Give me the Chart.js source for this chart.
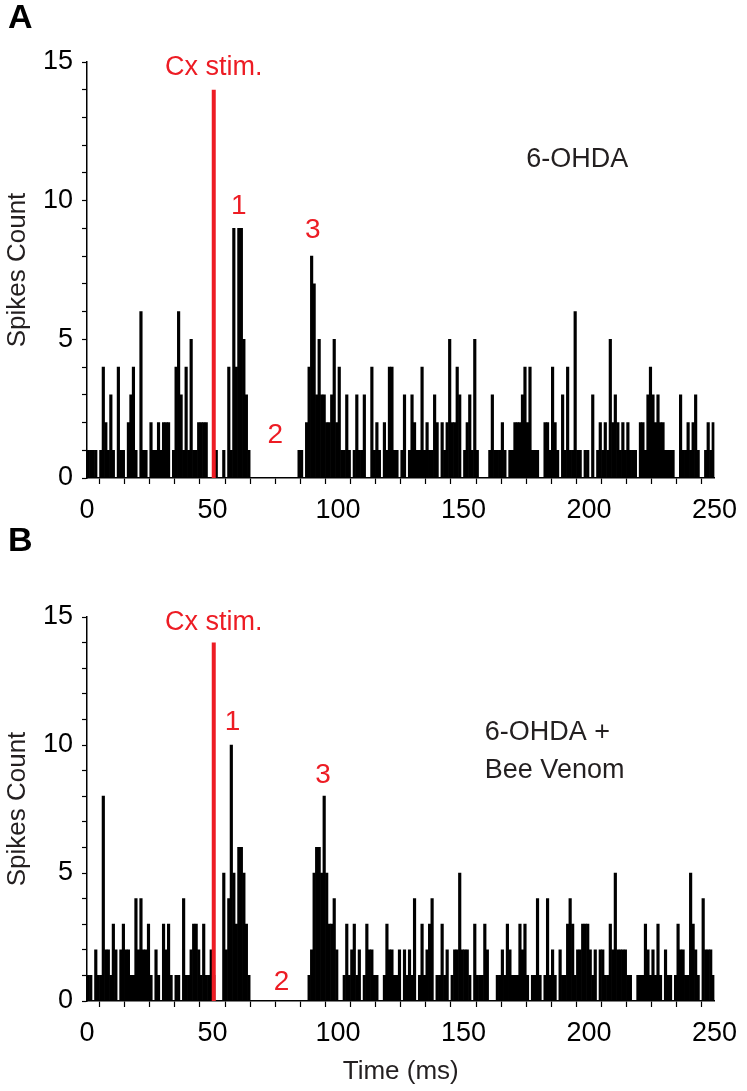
<!DOCTYPE html>
<html>
<head>
<meta charset="utf-8">
<script src="https://cdn.jsdelivr.net/npm/chart.js@4.4.1/dist/chart.umd.min.js"></script>
<style>
  body { margin: 0; background: #fff; }
  #wrap { position: relative; width: 747px; height: 1091px; }
  #panelA { position: absolute; left: 0; top: 0; }
  #panelB { position: absolute; left: 0; top: 520px; }
</style>
</head>
<body>
<div id="wrap">
  <canvas id="panelA" width="747" height="545"></canvas>
  <canvas id="panelB" width="747" height="571"></canvas>
</div>
<script>
const RED = '#ed1c24';
const INK = '#231f20';
const FONT = "'Liberation Sans', Arial, sans-serif";

const stimTime = 50.5;
const stimTop = 14;

// spikes per 1 ms bin, 0..249 ms
const countsA = [
  1, 1, 1, 1, 0, 1, 4, 2, 1, 3, 1, 0, 4, 1, 1, 0, 2, 3, 4, 1,
  0, 6, 1, 1, 0, 2, 1, 1, 2, 1, 2, 2, 2, 0, 1, 4, 6, 3, 1, 4,
  1, 5, 1, 1, 2, 2, 2, 2, 0, 0, 1, 1, 0, 0, 1, 0, 4, 1, 9, 4,
  9, 9, 5, 3, 1, 0, 0, 0, 0, 0, 0, 0, 0, 0, 0, 0, 0, 0, 0, 0,
  0, 0, 0, 0, 1, 1, 0, 2, 4, 8, 7, 3, 5, 3, 3, 2, 2, 3, 5, 2,
  4, 1, 1, 3, 1, 0, 1, 3, 1, 1, 3, 0, 0, 4, 1, 2, 1, 0, 2, 1,
  4, 4, 1, 1, 0, 1, 3, 0, 1, 3, 2, 1, 1, 4, 1, 2, 1, 1, 3, 2,
  0, 2, 1, 2, 5, 2, 2, 4, 3, 0, 1, 2, 3, 1, 5, 1, 0, 0, 0, 0,
  1, 3, 1, 1, 1, 2, 1, 0, 1, 1, 2, 2, 2, 3, 4, 2, 4, 1, 1, 1,
  0, 0, 2, 2, 1, 4, 2, 1, 0, 3, 1, 4, 1, 1, 6, 1, 1, 0, 1, 1,
  0, 3, 0, 1, 2, 1, 2, 1, 5, 2, 3, 2, 1, 2, 1, 2, 1, 1, 1, 0,
  2, 2, 1, 3, 4, 3, 2, 3, 2, 2, 1, 1, 1, 1, 0, 0, 3, 1, 1, 2,
  1, 2, 3, 1, 0, 0, 1, 2, 1, 2,
];

const countsB = [
  1, 1, 0, 2, 1, 1, 8, 2, 2, 1, 3, 2, 0, 2, 3, 2, 2, 1, 1, 4,
  2, 4, 2, 2, 3, 1, 0, 2, 1, 0, 3, 2, 3, 1, 0, 1, 1, 0, 4, 1,
  1, 2, 3, 3, 2, 1, 3, 1, 1, 2, 1, 0, 0, 0, 5, 2, 4, 10, 5, 3,
  6, 6, 5, 3, 1, 0, 0, 0, 0, 0, 0, 0, 0, 0, 0, 0, 0, 0, 0, 0,
  0, 0, 0, 0, 0, 0, 0, 0, 1, 2, 5, 6, 6, 5, 8, 5, 3, 3, 4, 2,
  0, 0, 1, 3, 1, 2, 3, 1, 2, 0, 1, 3, 2, 2, 1, 1, 0, 0, 1, 3,
  2, 2, 1, 1, 2, 0, 2, 1, 2, 1, 4, 0, 1, 3, 1, 2, 3, 4, 0, 1,
  1, 3, 1, 2, 0, 1, 2, 2, 5, 2, 2, 2, 1, 0, 3, 1, 1, 1, 3, 2,
  0, 0, 0, 1, 1, 2, 1, 3, 2, 1, 1, 1, 3, 2, 3, 1, 0, 1, 1, 4,
  1, 0, 1, 4, 1, 2, 1, 0, 2, 1, 1, 3, 4, 3, 1, 2, 2, 3, 3, 3,
  2, 1, 2, 0, 2, 2, 1, 1, 3, 2, 5, 2, 2, 2, 2, 1, 1, 0, 0, 1,
  1, 1, 3, 2, 1, 2, 1, 3, 1, 0, 2, 1, 1, 0, 1, 3, 2, 2, 1, 1,
  5, 3, 2, 1, 0, 4, 2, 2, 2, 1,
];

const xLabelEvery = 50;
const yLabelEvery = 5;

// text placed in data units
const notesA = [
  { text: 'Cx stim.', x: 50.5, y: 14.8, color: RED, align: 'center' },
  { text: '1', x: 60.5, y: 9.8, color: RED, align: 'center' },
  { text: '2', x: 75, y: 1.55, color: RED, align: 'center' },
  { text: '3', x: 90, y: 8.95, color: RED, align: 'center' },
  { text: '6-OHDA', x: 175, y: 11.5, color: INK, align: 'left' },
];

const notesB = [
  { text: 'Cx stim.', x: 50.5, y: 14.8, color: RED, align: 'center' },
  { text: '1', x: 58, y: 10.9, color: RED, align: 'center' },
  { text: '2', x: 77.5, y: 0.75, color: RED, align: 'center' },
  { text: '3', x: 94, y: 8.8, color: RED, align: 'center' },
  { text: '6-OHDA +', x: 158.5, y: 10.5, color: INK, align: 'left' },
  { text: 'Bee Venom', x: 158.5, y: 9.0, color: INK, align: 'left' },
];

const notesPlugin = {
  id: 'notes',
  afterDatasetsDraw(chart, args, opts) {
    const { ctx, scales } = chart;
    ctx.save();
    ctx.textBaseline = 'middle';
    opts.items.forEach((n) => {
      ctx.font = `${n.text.length === 1 ? 28 : 27}px ${FONT}`;
      ctx.fillStyle = n.color;
      ctx.textAlign = n.align;
      ctx.fillText(n.text, scales.x.getPixelForValue(n.x), scales.y.getPixelForValue(n.y));
    });
    ctx.font = `bold 34px ${FONT}`;
    ctx.fillStyle = '#000';
    ctx.textAlign = 'left';
    ctx.fillText(opts.letter, opts.letterX, opts.letterY);
    ctx.restore();
  },
};

function buildChart(canvasId, counts, notes, letter, layout) {
  const bars = counts.map((v, i) => ({ x: i + 0.5, y: v }));
  const stim = [
    { x: stimTime, y: 0 },
    { x: stimTime, y: stimTop },
  ];

  return new Chart(document.getElementById(canvasId), {
    type: 'bar',
    data: {
      datasets: [
        {
          type: 'line',
          data: stim,
          borderColor: RED,
          borderWidth: 4,
          pointRadius: 0,
          order: 0,
        },
        {
          data: bars,
          backgroundColor: '#000',
          borderWidth: 0,
          barPercentage: 1,
          categoryPercentage: 1,
          order: 1,
        },
      ],
    },
    options: {
      responsive: false,
      animation: false,
      devicePixelRatio: 1,
      layout: { padding: { top: layout.top, right: 27, left: 0, bottom: 0 } },
      plugins: {
        legend: { display: false },
        tooltip: { enabled: false },
        notes: { items: notes, letter, letterX: 8, letterY: layout.letterY },
      },
      scales: {
        x: {
          type: 'linear',
          min: 0,
          max: 250,
          offset: false,
          border: { color: '#000', width: 1.5 },
          grid: { drawOnChartArea: false, tickLength: 6, tickColor: '#000', tickWidth: 1.2 },
          ticks: {
            stepSize: 10,
            maxTicksLimit: 100,
            autoSkip: false,
            maxRotation: 0,
            padding: 10,
            color: '#000',
            font: { family: FONT, size: 27 },
            callback: (v) => (v % xLabelEvery === 0 ? v : ''),
          },
          title: {
            display: layout.xTitle,
            text: 'Time (ms)',
            color: INK,
            font: { family: FONT, size: 26 },
            padding: { top: 0, bottom: 4 },
          },
          afterFit: (scale) => {
            scale.height = layout.axisH;
          },
        },
        y: {
          min: 0,
          max: 15,
          border: { color: '#000', width: 1.5 },
          grid: { drawOnChartArea: false, tickLength: 5, tickColor: '#000', tickWidth: 1.2 },
          ticks: {
            stepSize: 1,
            maxTicksLimit: 100,
            autoSkip: false,
            padding: 9,
            color: '#000',
            font: { family: FONT, size: 27 },
            callback: (v) => (v % yLabelEvery === 0 ? v : ''),
          },
          title: {
            display: true,
            text: 'Spikes Count',
            color: INK,
            font: { family: FONT, size: 26 },
            padding: { top: 2, bottom: 0 },
          },
          afterFit: (scale) => {
            scale.width = 87;
          },
        },
      },
    },
    plugins: [notesPlugin],
  });
}

document.addEventListener('DOMContentLoaded', () => {
  buildChart('panelA', countsA, notesA, 'A', { top: 62, axisH: 67, letterY: 19, xTitle: false });
  buildChart('panelB', countsB, notesB, 'B', { top: 97, axisH: 90, letterY: 22, xTitle: true });
});
</script>
</body>
</html>
